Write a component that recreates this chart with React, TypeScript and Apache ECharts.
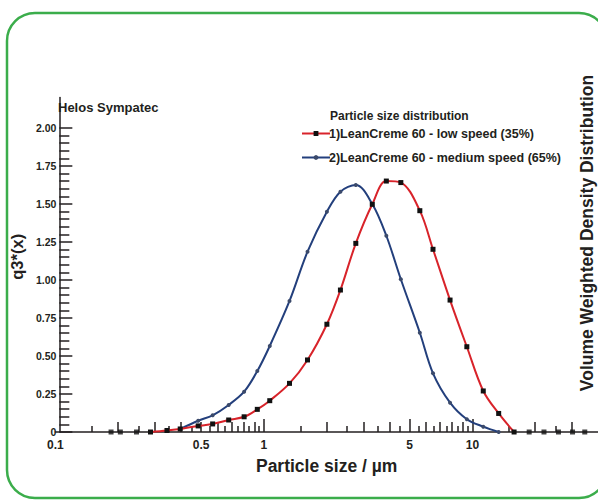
import React, { useEffect, useRef } from "react";
import * as echarts from "echarts";

// Particle sizes (µm) of the measurement channels
const sizes = [0.185, 0.205, 0.245, 0.286, 0.343, 0.397, 0.484, 0.568, 0.678, 0.804, 0.93, 1.067, 1.327, 1.619, 2.005, 2.328, 2.759, 3.309, 3.865, 4.536, 5.594, 6.47, 7.81, 9.4, 11.27, 13.36, 15.84, 18.71, 22.03, 25.85, 30.2, 34.56];
// q3*(x) values, null = not drawn
const lowSpeed = [null, null, null, 0, 0.01, 0.02, 0.04, 0.053, 0.079, 0.1, 0.149, 0.206, 0.32, 0.474, 0.709, 0.934, 1.241, 1.498, 1.651, 1.641, 1.456, 1.202, 0.868, 0.561, 0.27, 0.122, 0, null, null, null, null, null];
const mediumSpeed = [null, null, null, null, null, 0.02, 0.074, 0.11, 0.178, 0.265, 0.401, 0.566, 0.862, 1.186, 1.449, 1.581, 1.625, 1.5, 1.291, 1.005, 0.653, 0.386, 0.193, 0.084, 0.035, 0, null, null, null, null, null, null];

const seriesNames = ["1)LeanCreme 60 - low speed (35%)", "2)LeanCreme 60 - medium speed (65%)"];
const xLabelValues = [0.1, 0.5, 1, 5, 10];
const xTallTicks = [0.2, 0.3, 0.4, 0.5, 0.6, 0.7, 0.8, 0.9, 2, 3, 4, 6, 7, 8, 9, 20, 30];
const xLongTicks = [1, 5, 10];
const xShortTicks = [0.15, 0.25, 0.35, 0.45, 0.55, 0.65, 0.75, 0.85, 0.95, 1.5, 2.5, 3.5, 4.5, 5.5, 6.5, 7.5, 8.5, 9.5, 15, 25];
const yMajorTicks = [0, 0.25, 0.5, 0.75, 1, 1.25, 1.5, 1.75, 2];
const yMinorTicks = [0.05, 0.1, 0.15, 0.2, 0.3, 0.35, 0.4, 0.45, 0.55, 0.6, 0.65, 0.7, 0.8, 0.85, 0.9, 0.95, 1.05, 1.1, 1.15, 1.2, 1.3, 1.35, 1.4, 1.45, 1.55, 1.6, 1.65, 1.7, 1.8, 1.85, 1.9, 1.95];

const INK = "#231f20";
const FONT = "'Liberation Sans', Arial, sans-serif";

export default function App() {
  const ref = useRef<HTMLDivElement>(null);
  useEffect(() => {
    const chart = echarts.init(ref.current!, null, { renderer: "svg" });
    const toPairs = (vals: (number | null)[]) =>
      sizes.map((s, i) => (vals[i] == null ? null : [s, vals[i]])).filter((p) => p !== null);
    const zeroPoints = sizes.filter((_, i) => lowSpeed[i] == null).map((s) => [s, 0]);

    const xBase = { type: "log", logBase: 10, min: 0.1, max: 40, position: "bottom", splitLine: { show: false } };
    const yBase = { type: "value", min: 0, max: 2.2, interval: 0.25, position: "left", offset: -4, splitLine: { show: false } };

    chart.setOption({
      animation: false,
      textStyle: { fontFamily: FONT },
      grid: { left: 48, right: 0, top: 97.6, bottom: 69 },
      xAxis: [
        {
          ...xBase,
          axisLine: { lineStyle: { color: INK, width: 1.5 } },
          axisTick: { inside: true, length: 10, customValues: xTallTicks, lineStyle: { color: INK, width: 1.5 } },
          axisLabel: { customValues: xLabelValues, formatter: (v: number) => String(v), fontWeight: "bold", fontSize: 12, color: INK, margin: 7, fontFamily: FONT },
          name: "Particle size / µm",
          nameLocation: "middle",
          nameGap: 25,
          nameTextStyle: { fontWeight: "bold", fontSize: 17.5, color: INK, fontFamily: FONT },
        },
        {
          ...xBase,
          axisLine: { show: false },
          axisTick: { inside: true, length: 6, customValues: xShortTicks, lineStyle: { color: INK, width: 1.5 } },
          axisLabel: { show: false },
        },
        {
          ...xBase,
          axisLine: { show: false },
          axisTick: { inside: true, length: 13, customValues: xLongTicks, lineStyle: { color: INK, width: 1.5 } },
          axisLabel: { show: false },
        },
      ],
      yAxis: [
        {
          ...yBase,
          axisLine: { onZero: false, lineStyle: { color: INK, width: 1.5 } },
          axisTick: { inside: true, length: 13, customValues: yMajorTicks, lineStyle: { color: INK, width: 1.5 } },
          axisLabel: {
            customValues: yMajorTicks,
            formatter: (v: number) => (v === 0 ? "0" : v.toFixed(2)),
            fontWeight: "bold",
            fontSize: 10.5,
            color: INK,
            margin: 3,
            padding: [0, 0, 5, 0],
            fontFamily: FONT,
          },
          name: "q3*(x)",
          nameLocation: "middle",
          nameRotate: 90,
          nameGap: 29,
          nameTextStyle: { fontWeight: "bold", fontSize: 16.5, color: INK, fontFamily: FONT, padding: [0, 0, 0, 16] },
        },
        {
          ...yBase,
          axisLine: { show: false, onZero: false },
          axisTick: { inside: true, length: 10, customValues: yMinorTicks, lineStyle: { color: INK, width: 1.5 } },
          axisLabel: { show: false },
        },
      ],
      legend: {
        data: seriesNames,
        orient: "vertical",
        left: 296,
        top: 122,
        itemWidth: 28,
        itemHeight: 6,
        itemGap: 11,
        textStyle: { fontWeight: "bold", fontSize: 12.5, color: INK, fontFamily: FONT, padding: [0, 0, 0, -6] },
      },
      graphic: [
        {
          type: "rect",
          z: -1,
          shape: { x: 7, y: 13, width: 600, height: 485, r: 28 },
          style: { fill: "none", stroke: "#3bad4b", lineWidth: 2.5 },
        },
        {
          type: "text",
          x: 58,
          y: 101,
          style: { text: "Helos Sympatec", font: `bold 13px ${FONT}`, fill: INK },
        },
        {
          type: "text",
          x: 330,
          y: 110,
          style: { text: "Particle size distribution", font: `bold 12px ${FONT}`, fill: INK },
        },
        {
          type: "text",
          x: 587,
          y: 233,
          rotation: Math.PI / 2,
          style: {
            text: "Volume Weighted Density Distribution",
            font: `bold 17.5px ${FONT}`,
            fill: INK,
            align: "center",
            verticalAlign: "middle",
          },
        },
      ],
      series: [
        {
          name: seriesNames[0],
          type: "line",
          data: toPairs(lowSpeed),
          smooth: 0.35,
          symbol: "rect",
          symbolSize: 5,
          itemStyle: { color: "#111111" },
          lineStyle: { color: "#d8232a", width: 2 },
          z: 3,
        },
        {
          name: seriesNames[1],
          type: "line",
          data: toPairs(mediumSpeed),
          smooth: 0.35,
          symbol: "circle",
          symbolSize: 4,
          itemStyle: { color: "#3b4a6b" },
          lineStyle: { color: "#233f7c", width: 2 },
          z: 2,
        },
        {
          name: "zero",
          type: "scatter",
          data: zeroPoints,
          symbol: "rect",
          symbolSize: 5,
          itemStyle: { color: "#111111" },
          z: 4,
        },
      ],
    });
    return () => chart.dispose();
  }, []);
  return <div ref={ref} style={{ position: "fixed", left: 0, top: 0, width: 598, height: 501, background: "#fff" }} />;
}
